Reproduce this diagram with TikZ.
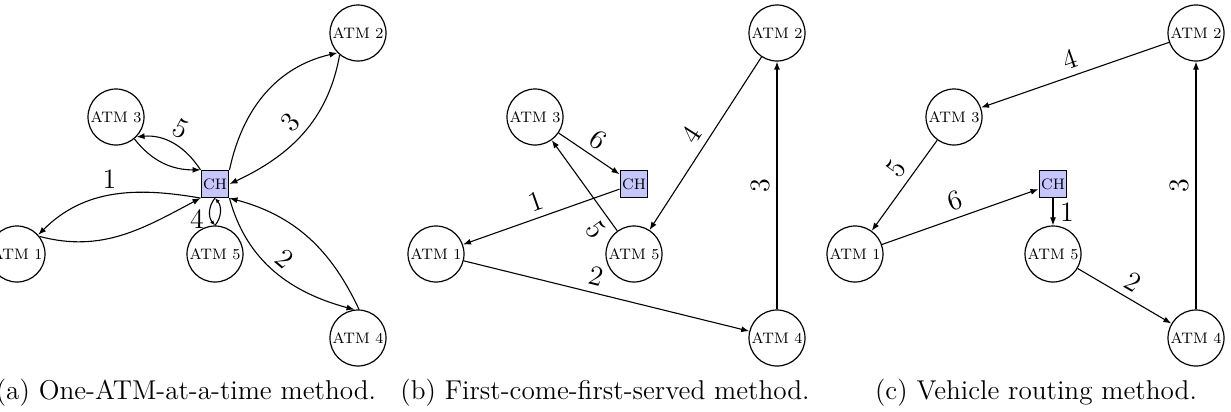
\documentclass[tikz,border=0pt]{standalone}
\usetikzlibrary{arrows.meta}
\begin{document}
\begin{tikzpicture}[x=0.5pt,y=-0.5pt,
  atm/.style={circle,draw,line width=0.6pt,minimum size=28pt,inner sep=0.5pt,font=\fontsize{7.6}{8}\selectfont},
  hub/.style={rectangle,draw,line width=0.6pt,fill=blue!22,minimum size=13.5pt,inner sep=1pt,font=\fontsize{7.6}{8}\selectfont},
  arr/.style={line width=0.55pt,-{Latex[length=4pt,width=3pt]}},
  sarr/.style={line width=0.55pt,-{Latex[length=2.5pt,width=2pt]}},
  lbl/.style={font=\fontsize{14}{14}\selectfont},
  captxt/.style={font=\fontsize{13.6}{14}\selectfont,anchor=base}]
\useasboundingbox (0,0) rectangle (1231,412);

% ---------- panel (a)
\node[atm] (a1) at (17,254) {ATM 1};
\node[atm] (a2) at (358,33) {ATM 2};
\node[atm] (a3) at (116,117) {ATM 3};
\node[atm] (a4) at (358,338) {ATM 4};
\node[atm] (a5) at (215,254) {ATM 5};
\node[hub] (ach) at (215,184) {CH};

\draw[arr] (ach.south west) to[out=170,in=45] node[lbl,pos=0.52,above]{1} (a1.42);
\draw[arr] (a1.38) to[out=-15,in=208] (ach.south west);
\draw[arr] (ach.north west) to[out=123,in=5] node[lbl,sloped,above]{5} (a3.-44);
\draw[arr] (a3.-50) to[out=-52,in=180] (ach.north west);
\draw[arr] (ach.north east) to[out=78,in=193] (a2.224);
\draw[arr] (a2.230) to[out=-100,in=25] node[lbl,sloped,above]{3} (ach.east);
\draw[arr] (a4.88) to[out=115,in=-15] (ach.south east);
\draw[arr] (ach.south east) to[out=-75,in=165] node[lbl,sloped,above]{2} (a4.97);
\draw[sarr] (ach.south) to[out=-130,in=130] node[lbl,pos=0.75,left]{4} (a5.north);
\draw[sarr] (a5.north) to[out=50,in=-50] (ach.south);

% ---------- panel (b)
\node[atm] (b1) at (436,254) {ATM 1};
\node[atm] (b2) at (777,33) {ATM 2};
\node[atm] (b3) at (535,117) {ATM 3};
\node[atm] (b4) at (777,338) {ATM 4};
\node[atm] (b5) at (634,254) {ATM 5};
\node[hub] (bch) at (634,184) {CH};

\draw[arr] (bch) -- node[lbl,sloped,above]{1} (b1);
\draw[arr] (b1) -- node[lbl,sloped,above,pos=0.45]{2} (b4);
\draw[arr] (b4) -- node[lbl,sloped,above]{3} (b2);
\draw[arr] (b2) -- node[lbl,sloped,above]{4} (b5);
\draw[arr] (b5) -- node[lbl,sloped,below,pos=0.12]{5} (b3);
\draw[arr] (b3) -- node[lbl,sloped,above]{6} (bch);

% ---------- panel (c)
\node[atm] (c1) at (855,254) {ATM 1};
\node[atm] (c2) at (1196,33) {ATM 2};
\node[atm] (c3) at (954,117) {ATM 3};
\node[atm] (c4) at (1196,338) {ATM 4};
\node[atm] (c5) at (1053,254) {ATM 5};
\node[hub] (cch) at (1053,184) {CH};

\draw[arr] (cch) -- node[lbl,right]{1} (c5);
\draw[arr] (c5) -- node[lbl,sloped,above]{2} (c4);
\draw[arr] (c4) -- node[lbl,sloped,above]{3} (c2);
\draw[arr] (c2) -- node[lbl,sloped,above]{4} (c3);
\draw[arr] (c3) -- node[lbl,sloped,above,pos=0.42]{5} (c1);
\draw[arr] (c1) -- node[lbl,sloped,above]{6} (cch);

% ---------- captions
\node[captxt] (capa) at (186,399) {(a) One-ATM-at-a-time method.};
\node[captxt] (capb) at (605,399) {(b) First-come-first-served method.};
\node[captxt] (capc) at (1036,399) {(c) Vehicle routing method.};
\end{tikzpicture}
\end{document}
